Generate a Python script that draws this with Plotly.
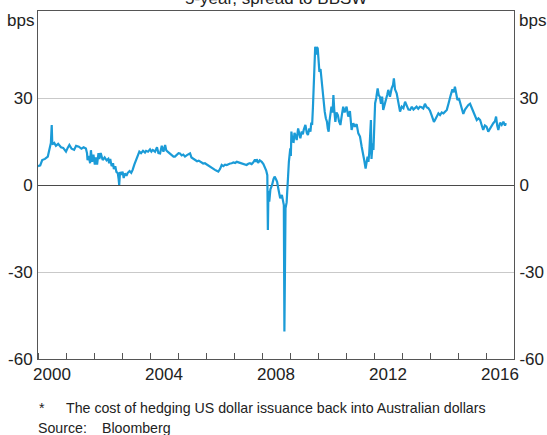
import plotly.graph_objects as go

# Decimal-year dates and spread values (bps)
years = [
    2000.00, 2000.08, 2000.15, 2000.25, 2000.35, 2000.42, 2000.46, 2000.49, 2000.51, 2000.58,
    2000.64, 2000.72, 2000.82, 2000.90, 2001.00, 2001.06, 2001.12, 2001.20, 2001.29, 2001.36,
    2001.46, 2001.55, 2001.63, 2001.71, 2001.75, 2001.77, 2001.82, 2001.86, 2001.89, 2001.93,
    2001.98, 2002.03, 2002.07, 2002.11, 2002.16, 2002.19, 2002.24, 2002.31, 2002.38, 2002.45,
    2002.51, 2002.54, 2002.58, 2002.63, 2002.68, 2002.71, 2002.76, 2002.80, 2002.85, 2002.88,
    2002.90, 2002.93, 2002.97, 2003.02, 2003.06, 2003.10, 2003.16, 2003.20, 2003.27, 2003.33,
    2003.38, 2003.44, 2003.50, 2003.56, 2003.62, 2003.68, 2003.75, 2003.82, 2003.86, 2003.93,
    2004.00, 2004.05, 2004.10, 2004.18, 2004.25, 2004.30, 2004.36, 2004.42, 2004.48, 2004.54,
    2004.58, 2004.63, 2004.71, 2004.78, 2004.84, 2004.89, 2004.95, 2005.02, 2005.07, 2005.13,
    2005.19, 2005.25, 2005.32, 2005.38, 2005.43, 2005.48, 2005.55, 2005.61, 2005.68, 2005.74,
    2005.79, 2005.85, 2005.90, 2005.96, 2006.03, 2006.09, 2006.14, 2006.20, 2006.26, 2006.32,
    2006.38, 2006.44, 2006.50, 2006.56, 2006.62, 2006.68, 2006.74, 2006.80, 2006.86, 2006.92,
    2006.98, 2007.04, 2007.10, 2007.16, 2007.22, 2007.27, 2007.33, 2007.39, 2007.45, 2007.51,
    2007.57, 2007.63, 2007.69, 2007.75, 2007.79, 2007.81, 2007.86, 2007.92, 2007.99, 2008.05,
    2008.10, 2008.15, 2008.19, 2008.21, 2008.23, 2008.26, 2008.30, 2008.36, 2008.41, 2008.45,
    2008.50, 2008.54, 2008.58, 2008.62, 2008.65, 2008.71, 2008.75, 2008.78, 2008.80, 2008.82,
    2008.84, 2008.88, 2008.91, 2008.93, 2008.96, 2009.01, 2009.03, 2009.05, 2009.09, 2009.13,
    2009.16, 2009.19, 2009.24, 2009.29, 2009.33, 2009.37, 2009.42, 2009.46, 2009.49, 2009.55,
    2009.60, 2009.64, 2009.69, 2009.73, 2009.76, 2009.79, 2009.82, 2009.85, 2009.88, 2009.90,
    2009.93, 2009.96, 2009.99, 2010.02, 2010.05, 2010.09, 2010.12, 2010.15, 2010.18, 2010.21,
    2010.24, 2010.28, 2010.32, 2010.35, 2010.38, 2010.41, 2010.44, 2010.48, 2010.52, 2010.55,
    2010.58, 2010.62, 2010.66, 2010.71, 2010.75, 2010.80, 2010.85, 2010.90, 2010.95, 2011.02,
    2011.08, 2011.14, 2011.20, 2011.26, 2011.32, 2011.38, 2011.44, 2011.50, 2011.56, 2011.60,
    2011.65, 2011.70, 2011.74, 2011.77, 2011.80, 2011.83, 2011.86, 2011.89, 2011.91, 2011.95,
    2011.98, 2012.02, 2012.04, 2012.08, 2012.13, 2012.17, 2012.21, 2012.25, 2012.29, 2012.33,
    2012.38, 2012.42, 2012.47, 2012.51, 2012.57, 2012.63, 2012.68, 2012.71, 2012.75, 2012.81,
    2012.87, 2012.93, 2012.99, 2013.05, 2013.11, 2013.17, 2013.23, 2013.29, 2013.35, 2013.41,
    2013.46, 2013.52, 2013.58, 2013.64, 2013.70, 2013.76, 2013.82, 2013.88, 2013.94, 2014.00,
    2014.06, 2014.10, 2014.14, 2014.18, 2014.24, 2014.30, 2014.36, 2014.42, 2014.48, 2014.54,
    2014.60, 2014.66, 2014.70, 2014.74, 2014.80, 2014.85, 2014.89, 2014.94, 2014.98, 2015.03,
    2015.07, 2015.12, 2015.19, 2015.25, 2015.31, 2015.37, 2015.43, 2015.49, 2015.55, 2015.61,
    2015.67, 2015.73, 2015.79, 2015.85, 2015.90, 2015.96, 2016.02, 2016.08, 2016.14, 2016.20,
    2016.26, 2016.32, 2016.36, 2016.40, 2016.44, 2016.50, 2016.56, 2016.62, 2016.68, 2016.71,
]

spread_bps = [
    6.5, 6.8, 8.6, 9.0, 9.8, 12.5, 14.5, 20.7, 14.0, 14.5,
    13.5, 14.2, 13.0, 12.8, 11.5, 12.8, 13.8, 12.5, 12.1, 13.5,
    13.2, 12.5, 13.0, 12.6, 11.0, 8.6, 10.0, 7.5, 12.0, 8.0,
    10.5, 7.0, 9.5, 7.0, 11.0, 9.0, 11.0, 8.6, 9.5, 8.5,
    9.0, 7.5, 9.0, 6.5, 7.5, 5.5, 6.5, 4.5, 4.1, 2.0,
    0.0, 4.5, 3.5, 4.6, 2.4, 4.0, 3.2, 4.1, 4.8, 4.2,
    5.2, 7.0, 8.6, 9.5, 11.5, 11.0, 11.8, 11.2, 11.8, 11.5,
    12.3, 11.5, 12.1, 11.5, 13.0, 11.0, 10.9, 13.5, 11.5, 13.8,
    12.0, 11.5, 10.9, 10.5, 9.8, 9.8, 10.5, 11.0, 10.9, 10.2,
    10.5, 9.8, 10.3, 10.8, 10.9, 9.5, 9.0, 8.6, 8.2, 8.4,
    8.0, 7.8, 7.4, 7.5, 7.0, 6.8, 6.3, 5.8, 5.5, 5.2,
    4.9, 4.6, 5.5, 6.9, 6.5, 7.0, 6.9, 7.2, 7.4, 7.5,
    7.8, 7.6, 8.0, 7.8, 7.6, 7.5, 7.3, 7.0, 6.9, 7.3,
    7.5, 7.2, 7.8, 8.8, 8.0, 8.9, 7.6, 8.5, 8.0, 7.2,
    6.3, 5.0, 3.4, -15.5, -2.0, -5.7, -1.5, 0.0, 2.0, 2.9,
    2.0, 1.1, -1.1, -3.0, -4.6, -3.4, -6.0, -6.9, -50.5, -23.0,
    -8.0, -6.0, 0.5, 3.4, 8.0, 12.6, 10.0, 18.4, 15.0, 14.9,
    18.0, 17.2, 15.5, 19.5, 17.0, 16.1, 18.5, 17.5, 19.0, 20.7,
    18.0, 17.2, 19.5, 18.4, 21.5, 20.7, 27.0, 34.5, 42.0, 47.7,
    45.0, 47.5, 47.1, 42.0, 39.0, 40.0, 36.8, 34.0, 31.0, 28.0,
    25.3, 23.0, 21.8, 19.5, 18.4, 22.0, 24.1, 27.0, 25.0, 31.0,
    26.0, 21.8, 25.0, 24.1, 22.0, 20.7, 24.0, 27.0, 25.0, 27.0,
    23.6, 25.5, 19.0, 21.3, 20.1, 21.0, 17.8, 16.7, 13.2, 11.5,
    8.6, 5.7, 7.5, 9.8, 8.0, 11.0, 16.7, 22.4, 9.0, 14.4,
    12.1, 22.0, 28.2, 30.0, 33.3, 31.0, 30.4, 28.0, 30.5, 25.9,
    27.5, 29.3, 31.0, 32.8, 30.4, 33.3, 34.5, 36.8, 33.0, 31.6,
    28.0, 25.3, 27.0, 26.5, 28.7, 27.0, 26.0, 25.9, 27.0, 26.0,
    26.4, 27.0, 26.3, 27.0, 26.8, 26.4, 28.0, 26.8, 26.5, 25.6,
    24.0, 23.0, 21.8, 22.4, 23.5, 24.7, 24.1, 25.0, 24.7, 25.3,
    25.9, 28.0, 30.0, 31.0, 33.0, 32.0, 33.9, 31.0, 29.3, 30.0,
    28.5, 27.0, 24.5, 26.0, 27.0, 27.6, 28.0, 26.5, 25.3, 24.0,
    22.4, 23.0, 22.4, 20.5, 19.0, 20.5, 20.1, 18.4, 19.5, 20.5,
    21.3, 22.0, 23.6, 20.5, 19.0, 21.5, 20.7, 21.8, 20.5, 21.3,
]

year_labels = ["2000", "2004", "2008", "2012", "2016"]
label_positions = [2000.5, 2004.5, 2008.5, 2012.5, 2016.5]
y_ticks = [-60, -30, 0, 30]
y_tick_text = ["-60", "-30", "0", "30"]

title_text = "5-year, spread to BBSW"
footnote_text = "The cost of hedging US dollar issuance back into Australian dollars"
source_text = "Bloomberg"

FONT = "Liberation Sans, Arial, sans-serif"
W, H = 547, 435
ML, MR, MT, MB = 38, 33, 11, 76
TICK_SIZE = 17

fig = go.Figure()
fig.add_trace(go.Scatter(
    x=years, y=spread_bps, mode="lines",
    line=dict(color="#1b9bd7", width=2.2),
    hoverinfo="skip", showlegend=False,
))
# empty trace so the right-hand axis is drawn
fig.add_trace(go.Scatter(x=[], y=[], yaxis="y2", mode="lines",
                         hoverinfo="skip", showlegend=False))

axis_line = "#555555"
fig.update_layout(
    width=W, height=H,
    margin=dict(l=ML, r=MR, t=MT, b=MB, pad=0, autoexpand=False),
    paper_bgcolor="white", plot_bgcolor="white",
    font=dict(family=FONT, size=TICK_SIZE, color="#222222"),
    showlegend=False,
    xaxis=dict(
        range=[2000, 2017], showgrid=False, zeroline=False, automargin=False,
        showline=True, linecolor=axis_line, linewidth=1, mirror=True,
        tickmode="array", tickvals=label_positions, ticktext=year_labels,
        ticks="", tickfont=dict(size=TICK_SIZE),
        minor=dict(ticks="inside", tickmode="linear", tick0=2000, dtick=1,
                   ticklen=6, tickcolor=axis_line, tickwidth=1, showgrid=False),
    ),
    yaxis=dict(
        range=[-60, 60], tickmode="array", tickvals=y_ticks, ticktext=y_tick_text,
        ticks="", showgrid=True, automargin=False,
        gridcolor="#c9c9c9", gridwidth=1,
        zeroline=True, zerolinecolor="#4a4a4a", zerolinewidth=1,
        showline=True, linecolor=axis_line, linewidth=1,
        tickfont=dict(size=TICK_SIZE), ticklabelstandoff=1,
    ),
    yaxis2=dict(
        range=[-60, 60], tickmode="array", tickvals=y_ticks, ticktext=y_tick_text,
        ticks="", overlaying="y", side="right", automargin=False,
        showgrid=False, zeroline=False, showline=True, linecolor=axis_line, linewidth=1,
        tickfont=dict(size=TICK_SIZE), ticklabelstandoff=1,
    ),
)

# positions in canvas pixels, converted to plot-area paper fractions
pw, ph = W - ML - MR, H - MT - MB
annotations = [
    dict(text="bps", x=ML - 2, y=MT + 9, xanchor="right", yanchor="middle", size=TICK_SIZE),
    dict(text="bps", x=W - MR + 3, y=MT + 9, xanchor="left", yanchor="middle", size=TICK_SIZE),
    dict(text=title_text, x=276, y=10, xanchor="center", yanchor="bottom", size=TICK_SIZE),
    dict(text="*", x=37, y=408, xanchor="left", yanchor="middle", size=14.2),
    dict(text=footnote_text, x=64, y=408, xanchor="left", yanchor="middle", size=14.2),
    dict(text="Source:", x=36, y=428, xanchor="left", yanchor="middle", size=14.2),
    dict(text=source_text, x=100, y=428, xanchor="left", yanchor="middle", size=14.2),
]
for a in annotations:
    fig.add_annotation(
        text=a["text"], xref="paper", yref="paper",
        x=(a["x"] - ML) / pw, y=1 - (a["y"] - MT) / ph,
        xanchor=a["xanchor"], yanchor=a["yanchor"], showarrow=False,
        font=dict(family=FONT, size=a["size"], color="#222222"),
    )

fig.write_html(
    "out.html",
    config={"displayModeBar": False},
    post_script="document.body.style.margin='0';document.body.style.overflow='hidden';",
)
